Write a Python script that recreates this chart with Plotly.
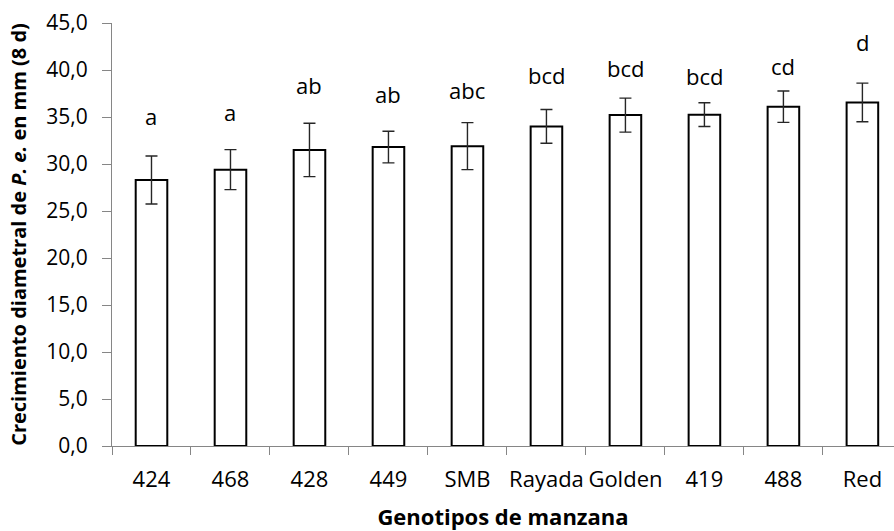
import plotly.graph_objects as go

genotypes = ["424", "468", "428", "449", "SMB", "Rayada", "Golden", "419", "488", "Red"]
means = [28.3, 29.4, 31.5, 31.8, 31.9, 34.0, 35.2, 35.25, 36.1, 36.55]
errors = [2.55, 2.13, 2.84, 1.68, 2.5, 1.79, 1.81, 1.26, 1.67, 2.05]
letters = ["a", "a", "ab", "ab", "abc", "bcd", "bcd", "bcd", "cd", "d"]
letter_y = [34.0, 34.5, 37.3, 36.4, 36.8, 38.4, 39.2, 38.3, 39.4, 41.9]
y_tickvals = [0, 5, 10, 15, 20, 25, 30, 35, 40, 45]

FONT = "Open Sans"
AXIS_GREY = "#868686"

fig = go.Figure()
fig.add_trace(go.Bar(
    x=genotypes,
    y=means,
    width=0.4,
    marker=dict(color="white", line=dict(color="black", width=2)),
    error_y=dict(type="data", array=errors, visible=True,
                 color="#262626", thickness=1.4, width=6),
    showlegend=False,
))

for i, (lab, ly) in enumerate(zip(letters, letter_y)):
    fig.add_annotation(x=i, y=ly, text=lab, showarrow=False,
                       xref="x", yref="y",
                       yanchor="bottom", yshift=-7,
                       font=dict(family=FONT, size=22, color="black"))

fig.update_layout(
    width=894, height=531,
    margin=dict(l=112, r=0, t=23, b=85),
    paper_bgcolor="white", plot_bgcolor="white",
    separators=",.",
    font=dict(family=FONT, color="black"),
)
fig.update_xaxes(
    type="category",
    range=[-0.5, 9.4],
    tickson="boundaries",
    tickangle=0,
    ticks="outside", ticklen=8, tickcolor=AXIS_GREY, tickwidth=1,
    showline=True, linecolor=AXIS_GREY, linewidth=1,
    showgrid=False, zeroline=False,
    tickfont=dict(family=FONT, size=22, color="black"),
    ticklabelstandoff=14,
    title=dict(text="<b>Genotipos de manzana</b>",
               font=dict(family=FONT, size=22, color="black"), standoff=18),
)
fig.update_yaxes(
    range=[0, 45],
    tickvals=y_tickvals, tickformat=".1f",
    ticks="outside", ticklen=9, tickcolor=AXIS_GREY, tickwidth=1,
    showline=True, linecolor=AXIS_GREY, linewidth=1,
    showgrid=False, zeroline=False,
    tickfont=dict(family=FONT, size=21, color="black"),
    ticklabelstandoff=10,
    title=dict(text="<b>Crecimiento diametral de <i>P. e.</i> en mm (8 d)</b>",
               font=dict(family=FONT, size=20, color="black"), standoff=14),
)

fig.write_html("out.html")
